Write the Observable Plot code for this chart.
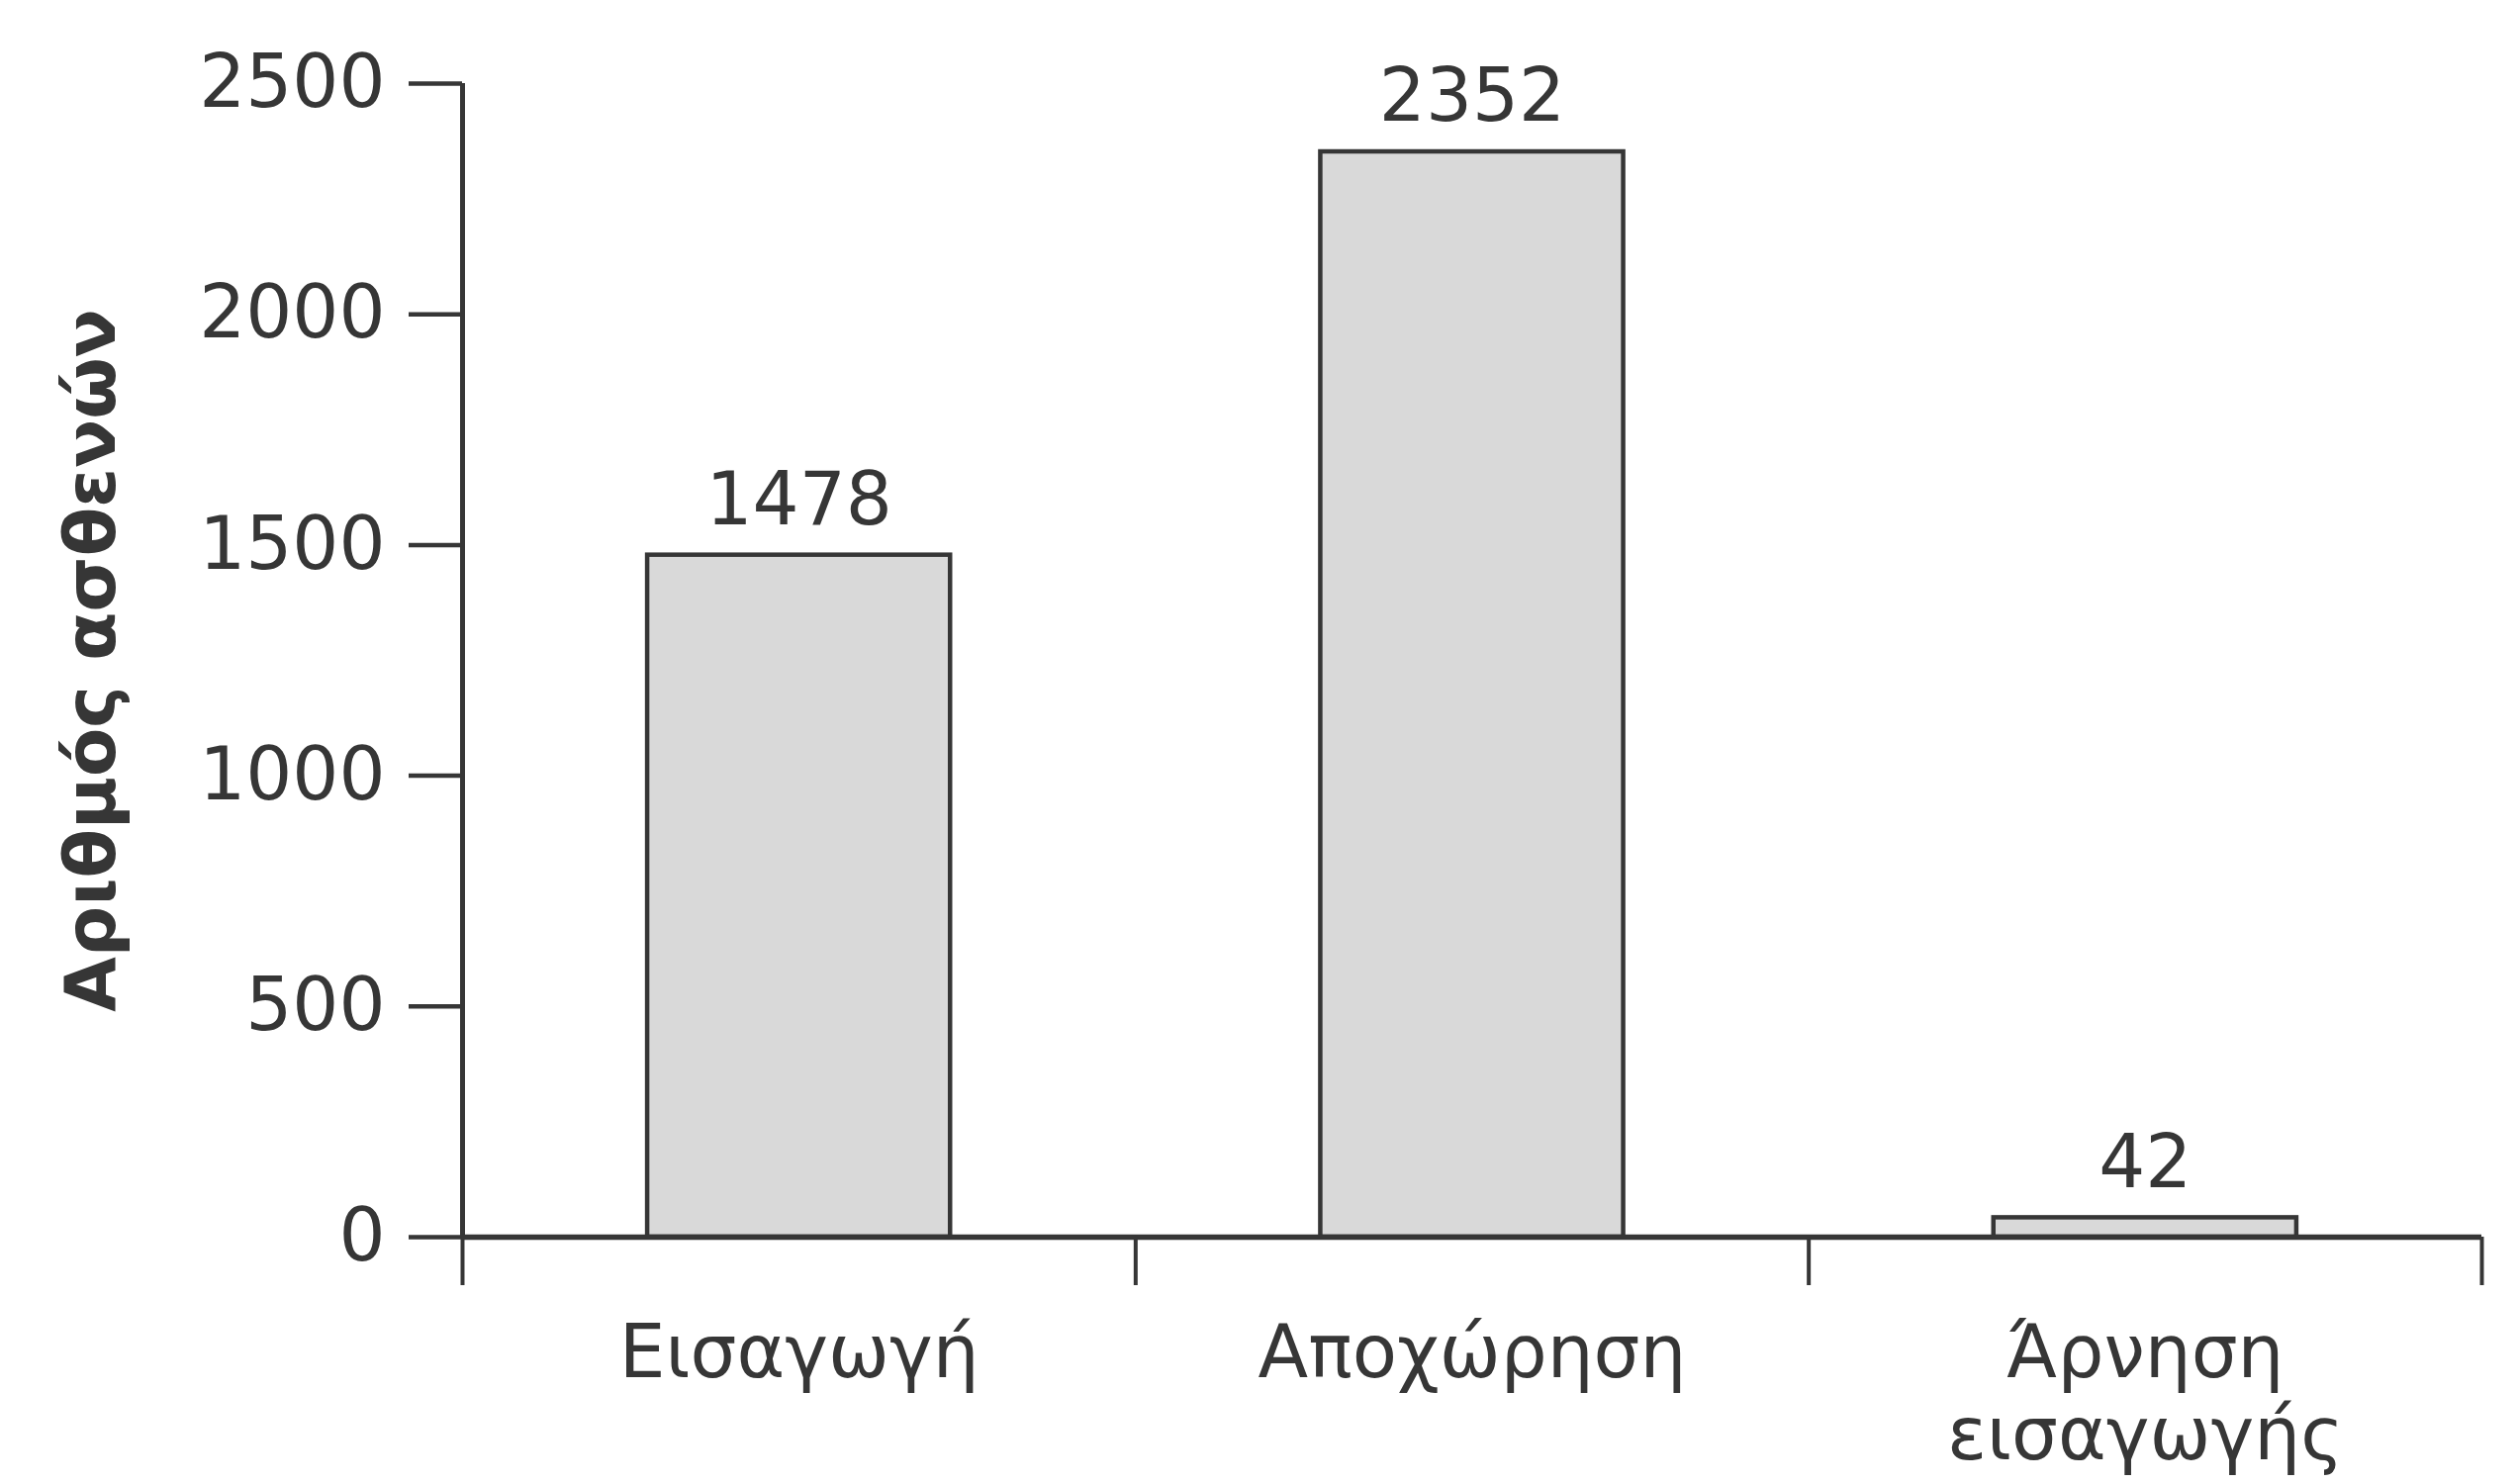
<!DOCTYPE html>
<html>
<head>
<meta charset="utf-8">
<script src="https://cdn.jsdelivr.net/npm/d3@7"></script>
<script src="https://cdn.jsdelivr.net/npm/@observablehq/plot@0.6"></script>
<style>
  html, body { margin: 0; padding: 0; background: #ffffff; }
  #chart svg { display: block; }
</style>
</head>
<body>
<div id="chart"></div>
<script>
const categories = ["Εισαγωγή", "Αποχώρηση", "Άρνηση\nεισαγωγής"];
const patients = [1478, 2352, 42];
const yTicks = [0, 500, 1000, 1500, 2000, 2500];
const yLabel = "Αριθμός ασθενών";

const rows = categories.map((c, i) => ({ cat: c, value: patients[i], i }));
const pad = 0.275;
const ink = "#363636";
const font = "DejaVu Sans";

const chart = Plot.plot({
  width: 2545,
  height: 1500,
  marginLeft: 467,
  marginRight: 37,
  marginTop: 84,
  marginBottom: 250,
  style: { fontFamily: font, color: ink, background: "#ffffff" },
  x: { domain: [0, categories.length], axis: null },
  y: { domain: [0, 2500], axis: null },
  marks: [
    Plot.rectY(rows, {
      x1: d => d.i + pad, x2: d => d.i + 1 - pad, y1: 0, y2: "value",
      fill: "#d9d9d9", stroke: ink, strokeWidth: 4.5
    }),
    Plot.axisY({
      ticks: yTicks, tickSize: 54, tickPadding: 24, fontSize: 74,
      tickFormat: d => String(d), label: null, color: ink, strokeWidth: 4.5
    }),
    Plot.axisX({
      ticks: d3.range(categories.length + 1), tickSize: 49,
      tickFormat: () => "", label: null, color: ink, strokeWidth: 4
    }),
    Plot.ruleX([0], { y1: 0, y2: 2500, stroke: ink, strokeWidth: 5 }),
    Plot.ruleY([0], { x1: 0, x2: categories.length, stroke: ink, strokeWidth: 5.5 }),
    Plot.text(rows, {
      x: d => d.i + 0.5, y: "value", text: d => String(d.value),
      dy: -55, fontSize: 74, fill: ink
    }),
    Plot.text(rows, {
      x: d => d.i + 0.5, y: 0, text: "cat", lineAnchor: "top",
      dy: 82, fontSize: 74, lineHeight: 1.13, fill: ink
    }),
    Plot.text([yLabel], {
      frameAnchor: "left", rotate: -90, dx: -375, text: d => d,
      textAnchor: "middle", fontSize: 72, fontWeight: "bold", fill: ink
    })
  ]
});

document.getElementById("chart").appendChild(chart);
</script>
</body>
</html>
